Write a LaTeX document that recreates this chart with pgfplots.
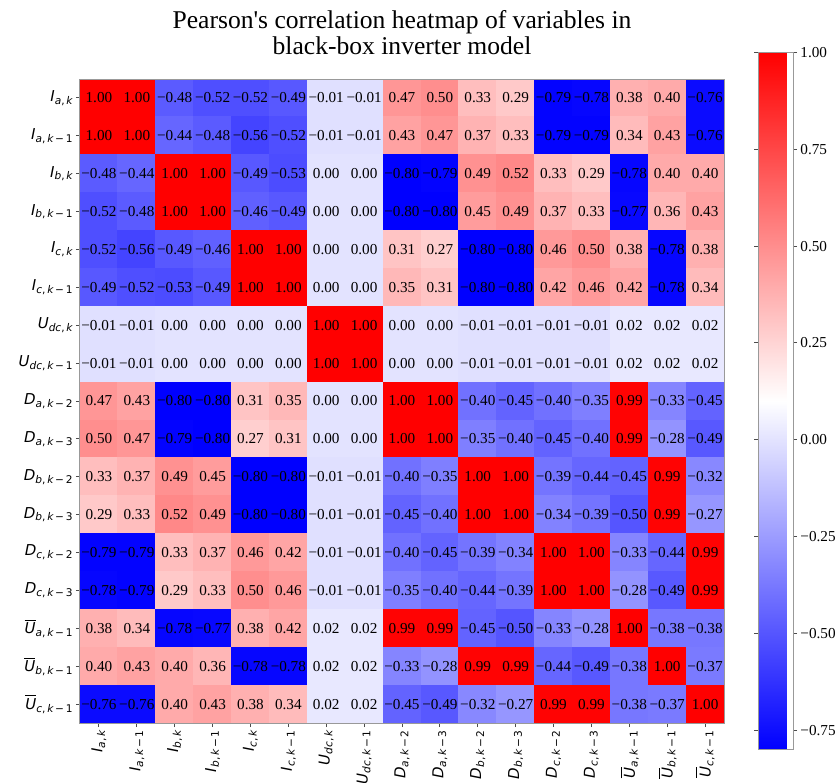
\documentclass[border=0pt]{standalone}
\usepackage{pgfplots}
\pgfplotsset{compat=1.18}
\usepackage{pgfplotstable}
\usepackage{fontspec}
\setmainfont{Liberation Serif}[Ligatures=TeXOff]
\newfontfamily\djv{DejaVu Sans}
\newcommand\ii[1]{{\itshape #1}}
\newcommand\lb[2]{{\djv\fontsize{7.5}{9}\selectfont\itshape #1\upshape\raisebox{-1.4pt}{\fontsize{5.3}{6}\selectfont #2}}}
\newcommand\lbo[2]{{\djv\fontsize{7.5}{9}\selectfont$\overline{\mbox{\itshape #1}}$\upshape\raisebox{-1.4pt}{\fontsize{5.3}{6}\selectfont #2}}}
\def\fmtA#1#2\relax{\ifx-#1−#2\else#1#2\fi}
\pgfplotstableread[row sep=\\]{
c\\
1.00\\ 1.00\\ -0.48\\ -0.52\\ -0.52\\ -0.49\\ -0.01\\ -0.01\\ 0.47\\ 0.50\\ 0.33\\ 0.29\\ -0.79\\ -0.78\\ 0.38\\ 0.40\\ -0.76\\
1.00\\ 1.00\\ -0.44\\ -0.48\\ -0.56\\ -0.52\\ -0.01\\ -0.01\\ 0.43\\ 0.47\\ 0.37\\ 0.33\\ -0.79\\ -0.79\\ 0.34\\ 0.43\\ -0.76\\
-0.48\\ -0.44\\ 1.00\\ 1.00\\ -0.49\\ -0.53\\ 0.00\\ 0.00\\ -0.80\\ -0.79\\ 0.49\\ 0.52\\ 0.33\\ 0.29\\ -0.78\\ 0.40\\ 0.40\\
-0.52\\ -0.48\\ 1.00\\ 1.00\\ -0.46\\ -0.49\\ 0.00\\ 0.00\\ -0.80\\ -0.80\\ 0.45\\ 0.49\\ 0.37\\ 0.33\\ -0.77\\ 0.36\\ 0.43\\
-0.52\\ -0.56\\ -0.49\\ -0.46\\ 1.00\\ 1.00\\ 0.00\\ 0.00\\ 0.31\\ 0.27\\ -0.80\\ -0.80\\ 0.46\\ 0.50\\ 0.38\\ -0.78\\ 0.38\\
-0.49\\ -0.52\\ -0.53\\ -0.49\\ 1.00\\ 1.00\\ 0.00\\ 0.00\\ 0.35\\ 0.31\\ -0.80\\ -0.80\\ 0.42\\ 0.46\\ 0.42\\ -0.78\\ 0.34\\
-0.01\\ -0.01\\ 0.00\\ 0.00\\ 0.00\\ 0.00\\ 1.00\\ 1.00\\ 0.00\\ 0.00\\ -0.01\\ -0.01\\ -0.01\\ -0.01\\ 0.02\\ 0.02\\ 0.02\\
-0.01\\ -0.01\\ 0.00\\ 0.00\\ 0.00\\ 0.00\\ 1.00\\ 1.00\\ 0.00\\ 0.00\\ -0.01\\ -0.01\\ -0.01\\ -0.01\\ 0.02\\ 0.02\\ 0.02\\
0.47\\ 0.43\\ -0.80\\ -0.80\\ 0.31\\ 0.35\\ 0.00\\ 0.00\\ 1.00\\ 1.00\\ -0.40\\ -0.45\\ -0.40\\ -0.35\\ 0.99\\ -0.33\\ -0.45\\
0.50\\ 0.47\\ -0.79\\ -0.80\\ 0.27\\ 0.31\\ 0.00\\ 0.00\\ 1.00\\ 1.00\\ -0.35\\ -0.40\\ -0.45\\ -0.40\\ 0.99\\ -0.28\\ -0.49\\
0.33\\ 0.37\\ 0.49\\ 0.45\\ -0.80\\ -0.80\\ -0.01\\ -0.01\\ -0.40\\ -0.35\\ 1.00\\ 1.00\\ -0.39\\ -0.44\\ -0.45\\ 0.99\\ -0.32\\
0.29\\ 0.33\\ 0.52\\ 0.49\\ -0.80\\ -0.80\\ -0.01\\ -0.01\\ -0.45\\ -0.40\\ 1.00\\ 1.00\\ -0.34\\ -0.39\\ -0.50\\ 0.99\\ -0.27\\
-0.79\\ -0.79\\ 0.33\\ 0.37\\ 0.46\\ 0.42\\ -0.01\\ -0.01\\ -0.40\\ -0.45\\ -0.39\\ -0.34\\ 1.00\\ 1.00\\ -0.33\\ -0.44\\ 0.99\\
-0.78\\ -0.79\\ 0.29\\ 0.33\\ 0.50\\ 0.46\\ -0.01\\ -0.01\\ -0.35\\ -0.40\\ -0.44\\ -0.39\\ 1.00\\ 1.00\\ -0.28\\ -0.49\\ 0.99\\
0.38\\ 0.34\\ -0.78\\ -0.77\\ 0.38\\ 0.42\\ 0.02\\ 0.02\\ 0.99\\ 0.99\\ -0.45\\ -0.50\\ -0.33\\ -0.28\\ 1.00\\ -0.38\\ -0.38\\
0.40\\ 0.43\\ 0.40\\ 0.36\\ -0.78\\ -0.78\\ 0.02\\ 0.02\\ -0.33\\ -0.28\\ 0.99\\ 0.99\\ -0.44\\ -0.49\\ -0.38\\ 1.00\\ -0.37\\
-0.76\\ -0.76\\ 0.40\\ 0.43\\ 0.38\\ 0.34\\ 0.02\\ 0.02\\ -0.45\\ -0.49\\ -0.32\\ -0.27\\ 0.99\\ 0.99\\ -0.38\\ -0.37\\ 1.00\\
}\corr
\begin{document}
\begin{tikzpicture}
\begin{axis}[
  name=main,
  scale only axis, width=322pt, height=322pt,
  xmin=-0.5, xmax=16.5, ymin=-0.5, ymax=16.5,
  y dir=reverse, enlargelimits=false, axis on top,
  colormap={bwr}{rgb=(0,0,1) rgb=(1,1,1) rgb=(1,0,0)},
  point meta min=-0.8, point meta max=1,
  xtick={0,...,16}, ytick={0,...,16},
  tick align=outside, tick pos=left, major tick length=2pt,
  axis line style={gray!80, line width=0.5pt},
  tick style={gray!60!black, line width=0.5pt},
  x tick label style={rotate=90, anchor=east, inner sep=1.5pt},
  y tick label style={anchor=east, inner sep=1.5pt},
  xticklabels={{\lb{I}{\ii{a},\,\ii{k}}},{\lb{I}{\ii{a},\,\ii{k}\,−\,1}},{\lb{I}{\ii{b},\,\ii{k}}},{\lb{I}{\ii{b},\,\ii{k}\,−\,1}},{\lb{I}{\ii{c},\,\ii{k}}},{\lb{I}{\ii{c},\,\ii{k}\,−\,1}},{\lb{U}{\ii{dc},\,\ii{k}}},{\lb{U}{\ii{dc},\,\ii{k}\,−\,1}},{\lb{D}{\ii{a},\,\ii{k}\,−\,2}},{\lb{D}{\ii{a},\,\ii{k}\,−\,3}},{\lb{D}{\ii{b},\,\ii{k}\,−\,2}},{\lb{D}{\ii{b},\,\ii{k}\,−\,3}},{\lb{D}{\ii{c},\,\ii{k}\,−\,2}},{\lb{D}{\ii{c},\,\ii{k}\,−\,3}},{\lbo{U}{\ii{a},\,\ii{k}\,−\,1}},{\lbo{U}{\ii{b},\,\ii{k}\,−\,1}},{\lbo{U}{\ii{c},\,\ii{k}\,−\,1}}},
  yticklabels={{\lb{I}{\ii{a},\,\ii{k}}},{\lb{I}{\ii{a},\,\ii{k}\,−\,1}},{\lb{I}{\ii{b},\,\ii{k}}},{\lb{I}{\ii{b},\,\ii{k}\,−\,1}},{\lb{I}{\ii{c},\,\ii{k}}},{\lb{I}{\ii{c},\,\ii{k}\,−\,1}},{\lb{U}{\ii{dc},\,\ii{k}}},{\lb{U}{\ii{dc},\,\ii{k}\,−\,1}},{\lb{D}{\ii{a},\,\ii{k}\,−\,2}},{\lb{D}{\ii{a},\,\ii{k}\,−\,3}},{\lb{D}{\ii{b},\,\ii{k}\,−\,2}},{\lb{D}{\ii{b},\,\ii{k}\,−\,3}},{\lb{D}{\ii{c},\,\ii{k}\,−\,2}},{\lb{D}{\ii{c},\,\ii{k}\,−\,3}},{\lbo{U}{\ii{a},\,\ii{k}\,−\,1}},{\lbo{U}{\ii{b},\,\ii{k}\,−\,1}},{\lbo{U}{\ii{c},\,\ii{k}\,−\,1}}},
  colorbar,
  colorbar style={
    at={(parent axis.east)}, anchor=west, xshift=8.5pt,
    scale only axis, width=17.5pt, height=348.5pt,
    ytick={-0.75,-0.5,-0.25,0,0.25,0.5,0.75,1},
    yticklabels={−0.75,−0.50,−0.25,0.00,0.25,0.50,0.75,1.00},
    yticklabel style={font=\fontsize{7.6}{8}\selectfont, inner sep=1.5pt},
    tick align=outside, major tick length=2pt,
    axis line style={gray!80, line width=0.5pt},
    tick style={gray!60!black, line width=0.5pt},
  },
]
\addplot[matrix plot*, mesh/cols=17, point meta=explicit]
  table[x index=0, y index=0, x expr={mod(\coordindex,17)}, y expr={floor((\coordindex+0.5)/17)}, meta=c]{\corr};
\addplot[only marks, mark=none, point meta=explicit symbolic,
  nodes near coords={\expandafter\fmtA\pgfplotspointmeta\relax},
  nodes near coords align={center},
  every node near coord/.append style={font=\fontsize{7.6}{8}\selectfont, inner sep=0pt, anchor=center, text=black}]
  table[x index=0, y index=0, x expr={mod(\coordindex,17)}, y expr={floor((\coordindex+0.5)/17)}, meta=c]{\corr};
\end{axis}
\node[anchor=base, xshift=161pt, yshift=347pt, font=\fontsize{12.8}{13}\selectfont] at (main.south west) {Pearson's correlation heatmap of variables in};
\node[anchor=base, xshift=161pt, yshift=334pt, font=\fontsize{12.8}{13}\selectfont] at (main.south west) {black-box inverter model};
\pgfresetboundingbox
\path[use as bounding box] (main.south west) ++(-40pt,-29.5pt) rectangle ++(419pt,391pt);
\end{tikzpicture}
\end{document}
